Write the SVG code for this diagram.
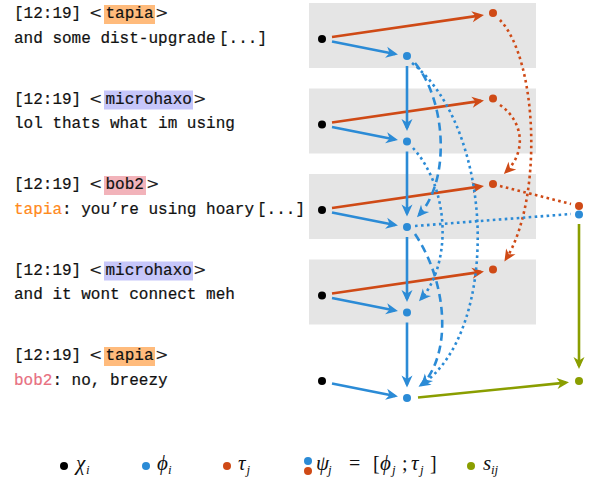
<svg xmlns="http://www.w3.org/2000/svg" width="589" height="479" viewBox="0 0 589 479">
<style>
.box{fill:#e5e5e5}
.tt{font-family:"Liberation Mono","DejaVu Sans Mono",monospace;font-size:16px;fill:#111;stroke:#111;stroke-width:0.2}
.ang{font-family:"DejaVu Sans",sans-serif;font-size:16px;fill:#222}
.m{font-family:"Liberation Serif",serif;font-size:20px;fill:#111}
.mi{font-style:italic;font-size:21px}
.sub{font-size:13px;font-style:italic}
.b{stroke:#2b8bd6;stroke-width:2.6;fill:none}
.o{stroke:#cf4a16;stroke-width:2.6;fill:none}
.g{stroke:#8a9e00;stroke-width:2.6;fill:none}
.dot{stroke-dasharray:2.6 3.4}
.dash{stroke-dasharray:8 5}
.kb{fill:#2b8bd6}.ko{fill:#cf4a16}.kg{fill:#8a9e00}.kk{fill:#000}
</style>
<defs>
<marker id="ab" markerUnits="userSpaceOnUse" viewBox="-10 -7 14 14" refX="0" refY="0" markerWidth="14" markerHeight="14" orient="auto"><path d="M3,0 L-9,-5.5 L-5.5,0 L-9,5.5 Z" fill="#2b8bd6"/></marker>
<marker id="ao" markerUnits="userSpaceOnUse" viewBox="-10 -7 14 14" refX="0" refY="0" markerWidth="14" markerHeight="14" orient="auto"><path d="M3,0 L-9,-5.5 L-5.5,0 L-9,5.5 Z" fill="#cf4a16"/></marker>
<marker id="ag" markerUnits="userSpaceOnUse" viewBox="-10 -7 14 14" refX="0" refY="0" markerWidth="14" markerHeight="14" orient="auto"><path d="M3,0 L-9,-5.5 L-5.5,0 L-9,5.5 Z" fill="#8a9e00"/></marker>
</defs>

<g id="backgrounds">
<rect class="box" x="309" y="3" width="227" height="65"/>
<rect class="box" x="309" y="88.5" width="227" height="65"/>
<rect class="box" x="309" y="174" width="227" height="65"/>
<rect class="box" x="309" y="259.5" width="227" height="65"/>
</g>

<g id="msg1">
<rect x="104" y="5" width="51" height="19" fill="#ffbb7c"/>
<text class="tt" x="14" y="18">[12:19]</text>
<text class="ang" x="89" y="18">&lt;</text>
<text class="tt" x="105.5" y="18">tapia</text>
<text class="ang" x="155" y="18">&gt;</text>
<text class="tt" y="42.5"><tspan x="14">and some dist-upgrade</tspan><tspan x="219">[...]</tspan></text>
</g>
<g id="msg2">
<rect x="104" y="90.5" width="89" height="19" fill="#c6c6fa"/>
<text class="tt" x="14" y="103.5">[12:19]</text>
<text class="ang" x="89" y="103.5">&lt;</text>
<text class="tt" x="105.5" y="103.5">microhaxo</text>
<text class="ang" x="193" y="103.5">&gt;</text>
<text class="tt" x="14" y="128">lol thats what im using</text>
</g>
<g id="msg3">
<rect x="104" y="176" width="42" height="19" fill="#f2b3ba"/>
<text class="tt" x="14" y="189">[12:19]</text>
<text class="ang" x="89" y="189">&lt;</text>
<text class="tt" x="105.5" y="189">bob2</text>
<text class="ang" x="146" y="189">&gt;</text>
<text class="tt" y="213.5"><tspan x="14" fill="#ff8a1c" stroke="#ff8a1c">tapia</tspan><tspan>: you’re using hoary</tspan><tspan x="257">[...]</tspan></text>
</g>
<g id="msg4">
<rect x="104" y="261.5" width="89" height="19" fill="#c6c6fa"/>
<text class="tt" x="14" y="274.5">[12:19]</text>
<text class="ang" x="89" y="274.5">&lt;</text>
<text class="tt" x="105.5" y="274.5">microhaxo</text>
<text class="ang" x="193" y="274.5">&gt;</text>
<text class="tt" x="14" y="299">and it wont connect meh</text>
</g>
<g id="msg5">
<rect x="104" y="347" width="51" height="19" fill="#ffbb7c"/>
<text class="tt" x="14" y="360">[12:19]</text>
<text class="ang" x="89" y="360">&lt;</text>
<text class="tt" x="105.5" y="360">tapia</text>
<text class="ang" x="155" y="360">&gt;</text>
<text class="tt" x="14" y="384.5"><tspan fill="#e8707f" stroke="#e8707f">bob2</tspan>: no, breezy</text>
</g>

<g id="connectors">
<path class="b" d="M332,41.5 L395,54" marker-end="url(#ab)"/>
<path class="b" d="M332,127 L395,139.5" marker-end="url(#ab)"/>
<path class="b" d="M332,212.5 L395,225" marker-end="url(#ab)"/>
<path class="b" d="M332,298 L395,310.5" marker-end="url(#ab)"/>
<path class="b" d="M332,383.5 L395,396" marker-end="url(#ab)"/>
<path class="o" d="M332,37 L481,15.4" marker-end="url(#ao)"/>
<path class="o" d="M332,122.5 L481,100.9" marker-end="url(#ao)"/>
<path class="o" d="M332,208 L481,186.4" marker-end="url(#ao)"/>
<path class="o" d="M332,293.5 L481,271.9" marker-end="url(#ao)"/>
<path class="b" d="M407,66 L407,128" marker-end="url(#ab)"/>
<path class="b" d="M407,151.5 L407,213.5" marker-end="url(#ab)"/>
<path class="b" d="M407,237 L407,299" marker-end="url(#ab)"/>
<path class="b" d="M407,322.5 L407,384.5" marker-end="url(#ab)"/>
<path class="b dash" d="M415,63 C446,100 451,180 419,215" marker-end="url(#ab)"/>
<path class="b dot" d="M412,63 C496,130 500,333 421,385" marker-end="url(#ab)"/>
<path class="b dot" d="M413,148 C451,190 451,265 421,299" marker-end="url(#ab)"/>
<path class="b dash" d="M415,234 C446,280 453,350 423,384" marker-end="url(#ab)"/>
<path class="o dot" d="M500,20 C538,60 543,200 506,259" marker-end="url(#ao)"/>
<path class="o dot" d="M500,105 C522,120 528,150 506,172" marker-end="url(#ao)"/>
<path class="o dot" d="M500,186 L571,204"/>
<path class="b dot" d="M415,226 L571,214"/>
<path class="g" d="M579,224 L579,366" marker-end="url(#ag)"/>
<path class="g" d="M418,397.5 L566,382.6" marker-end="url(#ag)"/>
</g>

<g id="nodes">
<circle class="kk" cx="322" cy="39" r="4"/>
<circle class="kk" cx="322" cy="124.5" r="4"/>
<circle class="kk" cx="322" cy="210" r="4"/>
<circle class="kk" cx="322" cy="295.5" r="4"/>
<circle class="kk" cx="322" cy="381" r="4"/>
<circle class="kb" cx="407" cy="56" r="4"/>
<circle class="kb" cx="407" cy="141.5" r="4"/>
<circle class="kb" cx="407" cy="227" r="4"/>
<circle class="kb" cx="407" cy="312.5" r="4"/>
<circle class="kb" cx="407" cy="398" r="4"/>
<circle class="ko" cx="493" cy="13" r="4"/>
<circle class="ko" cx="493" cy="98.5" r="4"/>
<circle class="ko" cx="493" cy="184" r="4"/>
<circle class="ko" cx="493" cy="269.5" r="4"/>
<circle class="ko" cx="579" cy="206" r="4"/>
<circle class="kb" cx="579" cy="214.5" r="4"/>
<circle class="kg" cx="579" cy="381" r="4"/>
</g>

<g id="legend">
<circle class="kk" cx="64" cy="466" r="4"/>
<text class="m"><tspan class="mi" x="76" y="470">χ</tspan><tspan class="sub" x="86" y="474">i</tspan></text>
<circle class="kb" cx="146" cy="466" r="4"/>
<text class="m"><tspan class="mi" x="157" y="470">ϕ</tspan><tspan class="sub" x="168" y="474">i</tspan></text>
<circle class="ko" cx="227" cy="466" r="4"/>
<text class="m"><tspan class="mi" x="238" y="470">τ</tspan><tspan class="sub" x="246.5" y="474">j</tspan></text>
<circle class="kb" cx="308" cy="461" r="4"/>
<circle class="ko" cx="308" cy="471" r="4"/>
<text class="m"><tspan class="mi" x="316" y="470">ψ</tspan><tspan class="sub" x="328" y="474">j</tspan><tspan x="349" y="470">=</tspan><tspan x="373" y="470">[</tspan><tspan class="mi" x="380" y="470">ϕ</tspan><tspan class="sub" x="392" y="474">j</tspan><tspan x="402" y="470">;</tspan><tspan class="mi" x="411" y="470">τ</tspan><tspan class="sub" x="420" y="474">j</tspan><tspan x="430" y="470">]</tspan></text>
<circle class="kg" cx="471" cy="466" r="4"/>
<text class="m"><tspan class="mi" x="483" y="470">s</tspan><tspan class="sub" x="491" y="474">ij</tspan></text>
</g>
</svg>
